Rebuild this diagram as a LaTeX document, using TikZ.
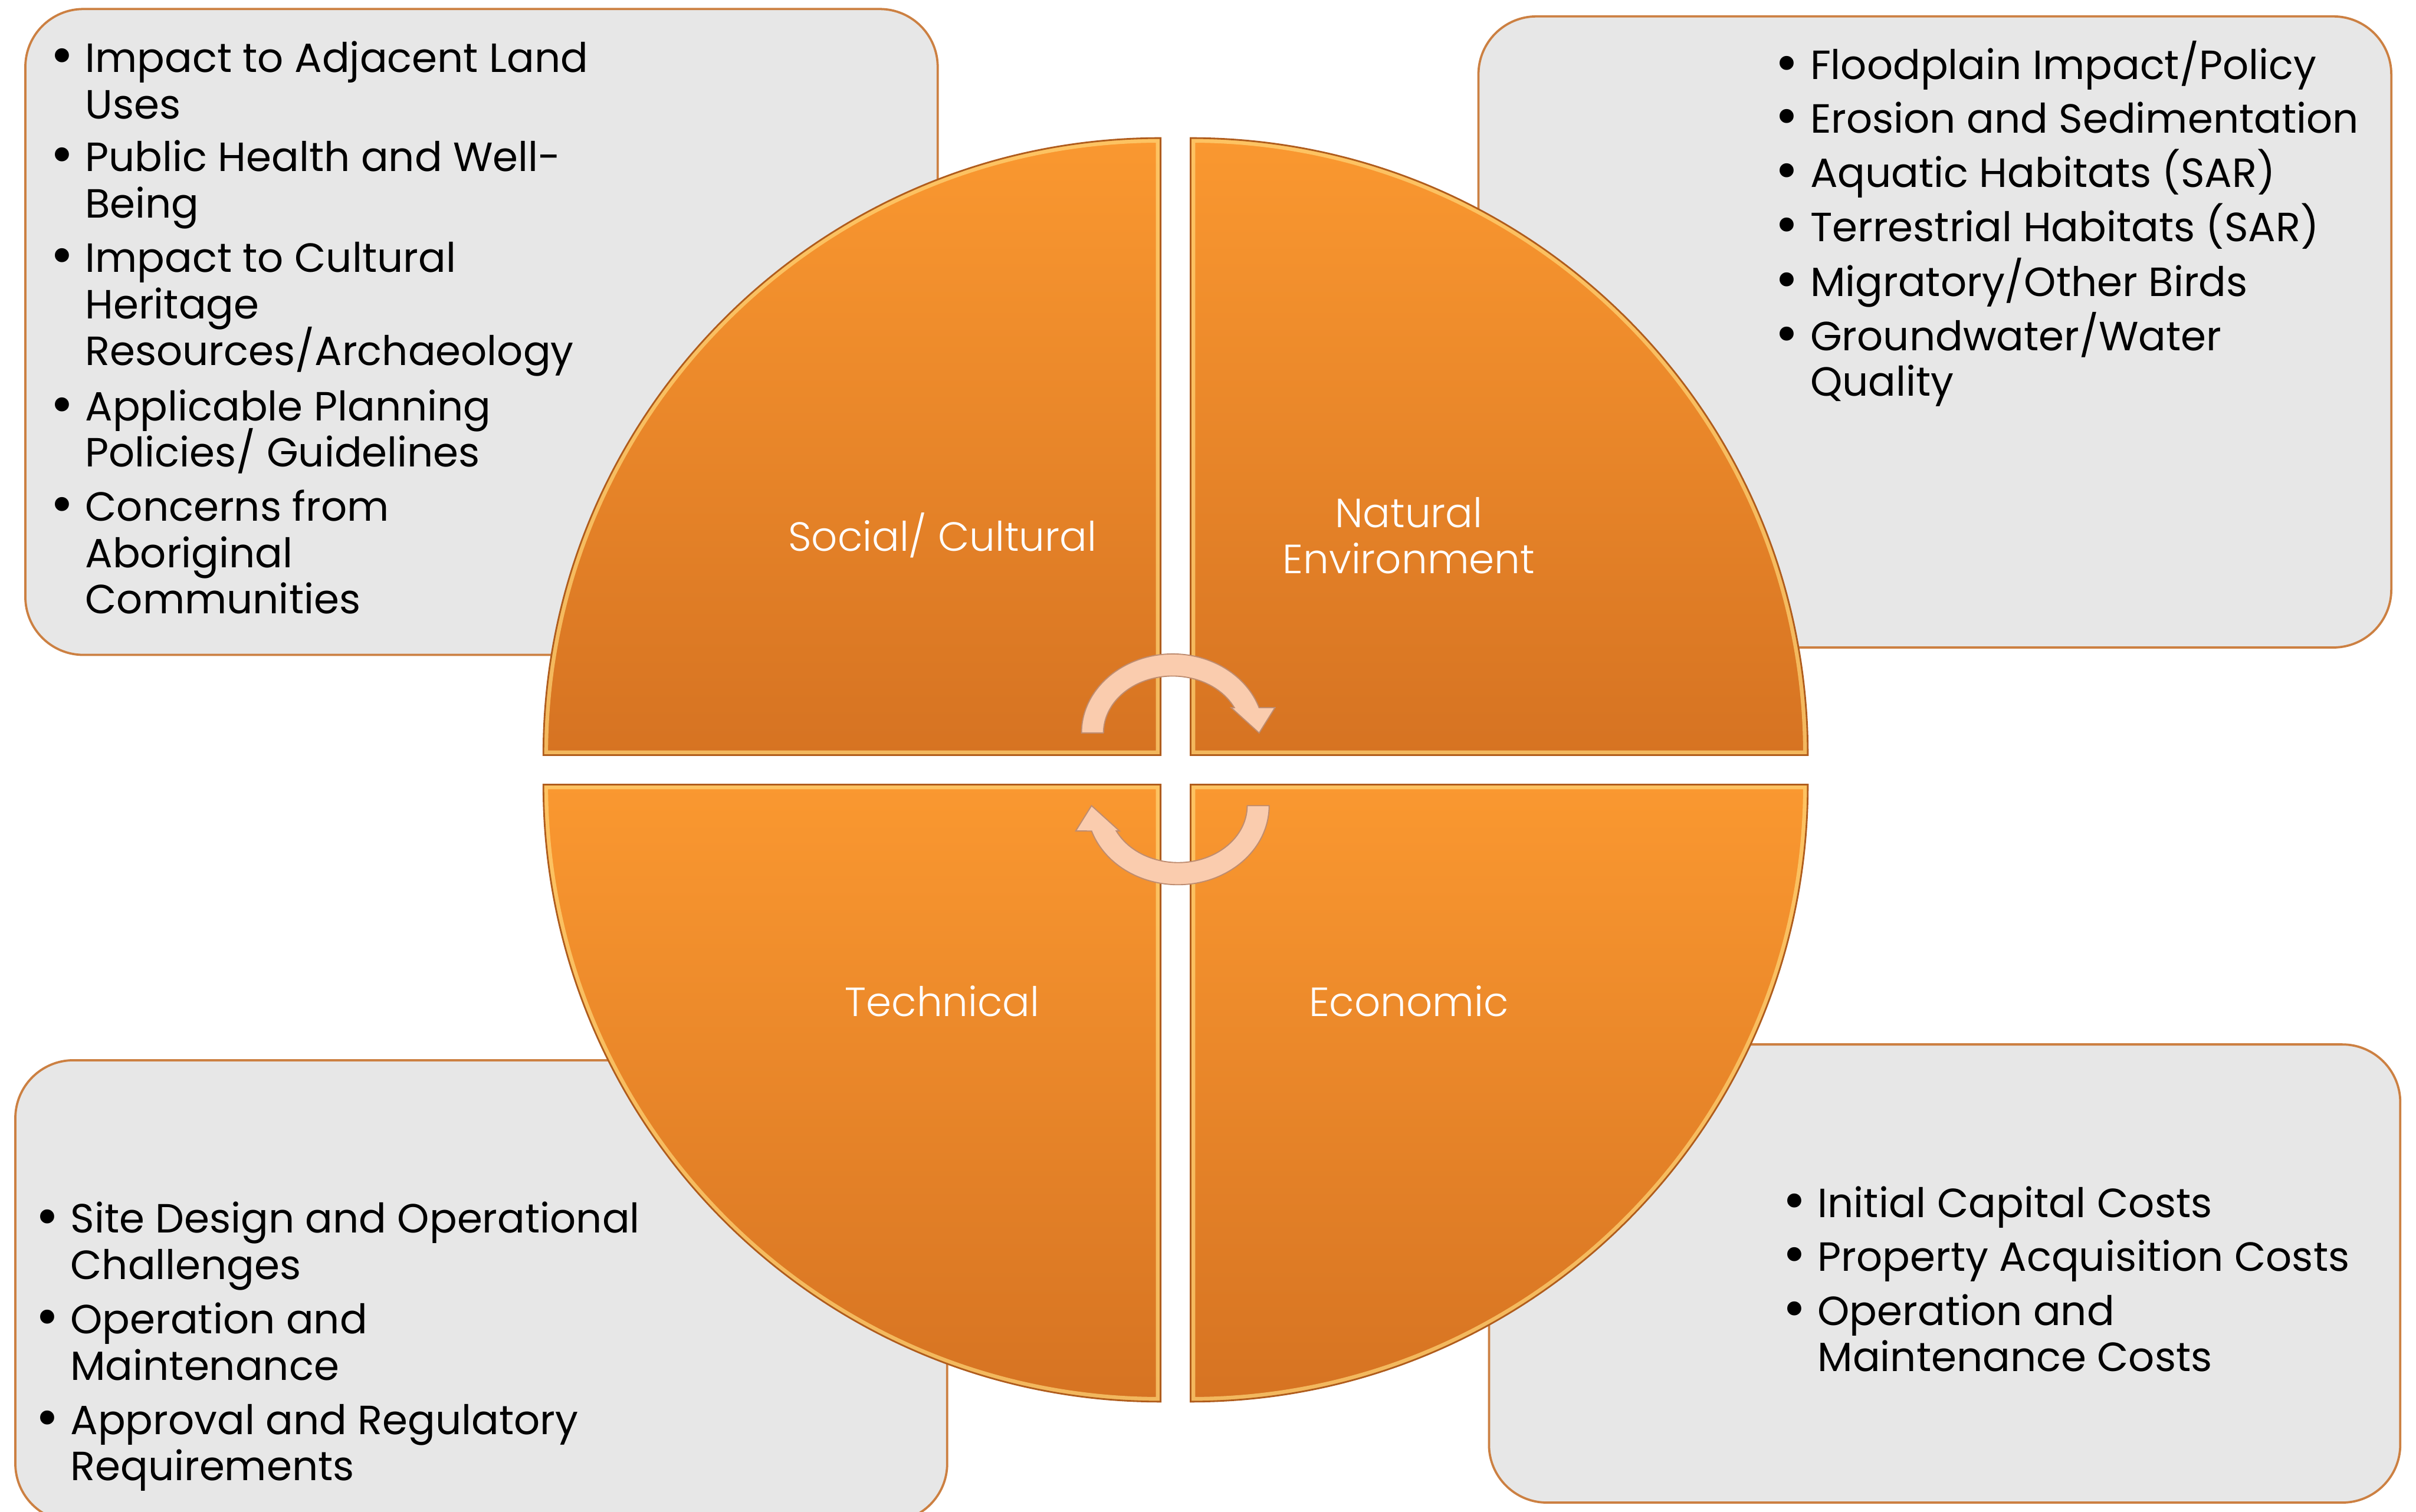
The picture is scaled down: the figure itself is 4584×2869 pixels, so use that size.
\documentclass[tikz,border=0pt]{standalone}
\usepackage{fontspec}
\setmainfont{Poppins}
\newfontfamily\titlefont{Poppins}[UprightFont={* Light}]

\definecolor{boxfill}{RGB}{231,231,231}
\definecolor{boxedge}{RGB}{204,128,66}
\definecolor{qtop}{RGB}{250,152,48}
\definecolor{qbot}{RGB}{214,115,34}
\definecolor{qedge}{RGB}{176,92,28}
\definecolor{bevelhi}{RGB}{255,214,120}
\definecolor{arrowfill}{RGB}{250,204,174}
\definecolor{arrowedge}{RGB}{190,140,112}

% one quarter of the disc: shaded body, light inner bevel, thin dark rim
\newcommand\quadpiece[1]{%
  \shade[top color=qtop, bottom color=qbot] #1;
  \begin{scope}\clip #1; \draw[line width=5pt, bevelhi, opacity=0.7] #1;\end{scope}
  \draw[line width=0.9pt, qedge] #1;}

\tikzset{
  infobox/.style={draw=boxedge, fill=boxfill, line width=1.2pt,
    rounded corners=1.1cm, anchor=north west, inner sep=0pt},
  listline/.style={anchor=base west, inner sep=0pt,
    font=\fontsize{22}{24}\selectfont, text=black},
  quadlabel/.style={anchor=base, inner sep=0pt,
    font=\titlefont\fontsize{22}{24}\selectfont, text=white},
  cycarrow/.pic={
    \filldraw[fill=arrowfill, draw=arrowedge, line width=0.6pt]
      (-136,-69) -- (-178,-69)
      arc[start angle=180, end angle=341.3, x radius=173, y radius=150]
      -- (189,-117) -- (159,-69) -- (106,-117) -- (112,-117)
      arc[start angle=333.6, end angle=180, x radius=131, y radius=108]
      -- cycle;
  }
}
\newcommand\bul{\llap{\makebox[0.88cm]{\raisebox{-0.06em}{\scalebox{1.4}{\textbullet}}}}}

\begin{document}
\begin{tikzpicture}[x=0.01cm, y=-0.01cm]
\useasboundingbox (0,0) rectangle (4584,2869);
\fill[white] (0,0) rectangle (4584,2869);

% text panels behind the disc
\node[infobox, minimum width=17.30cm, minimum height=12.25cm] (boxTL) at (46,15) {};
\node[infobox, minimum width=17.31cm, minimum height=11.97cm] (boxTR) at (2803,29) {};
\node[infobox, minimum width=17.67cm, minimum height=8.75cm] (boxBL) at (27,2010) {};
\node[infobox, minimum width=17.28cm, minimum height=8.69cm] (boxBR) at (2823,1980) {};

% social / cultural items
\node[listline] (tl1) at (161,137) {\bul Impact to Adjacent Land};
\node[listline] (tl2) at (161,225) {Uses};
\node[listline] (tl3) at (161,325) {\bul Public Health and Well-};
\node[listline] (tl4) at (161,414) {Being};
\node[listline] (tl5) at (161,516) {\bul Impact to Cultural};
\node[listline] (tl6) at (161,605) {Heritage};
\node[listline] (tl7) at (161,693) {Resources/Archaeology};
\node[listline] (tl8) at (161,799) {\bul Applicable Planning};
\node[listline] (tl9) at (161,886) {Policies/ Guidelines};
\node[listline] (tl10) at (161,989) {\bul Concerns from};
\node[listline] (tl11) at (161,1077) {Aboriginal};
\node[listline] (tl12) at (161,1165) {Communities};

% natural environment items
\node[listline] (tr1) at (3434,151) {\bul Floodplain Impact/Policy};
\node[listline] (tr2) at (3434,252) {\bul Erosion and Sedimentation};
\node[listline] (tr3) at (3434,355) {\bul Aquatic Habitats (SAR)};
\node[listline] (tr4) at (3434,458) {\bul Terrestrial Habitats (SAR)};
\node[listline] (tr5) at (3434,562) {\bul Migratory/Other Birds};
\node[listline] (tr6) at (3434,665) {\bul Groundwater/Water};
\node[listline] (tr7) at (3434,751) {Quality};

% technical items
\node[listline] (bl1) at (133,2340) {\bul Site Design and Operational};
\node[listline] (bl2) at (133,2428) {Challenges};
\node[listline] (bl3) at (133,2531) {\bul Operation and};
\node[listline] (bl4) at (133,2619) {Maintenance};
\node[listline] (bl5) at (133,2722) {\bul Approval and Regulatory};
\node[listline] (bl6) at (133,2810) {Requirements};

% economic items
\node[listline] (br1) at (3448,2310) {\bul Initial Capital Costs};
\node[listline] (br2) at (3448,2412) {\bul Property Acquisition Costs};
\node[listline] (br3) at (3448,2515) {\bul Operation and};
\node[listline] (br4) at (3448,2603) {Maintenance Costs};

% the four quarters of the disc
\quadpiece{(2202,1433) -- (1031,1433) arc[start angle=180, end angle=270, radius=1171] -- cycle}
\quadpiece{(2259,1433) -- (2259,262) arc[start angle=270, end angle=360, radius=1171] -- cycle}
\quadpiece{(2202,1489) -- (1031,1489) arc[start angle=180, end angle=90, radius=1171] -- cycle}
\quadpiece{(2259,1489) -- (3430,1489) arc[start angle=0, end angle=90, radius=1171] -- cycle}

% quarter titles
\node[quadlabel] (social) at (1788,1046) {Social/ Cultural};
\node[quadlabel] (natural1) at (2673,1001) {Natural};
\node[quadlabel] (natural2) at (2673,1088) {Environment};
\node[quadlabel] (technical) at (1788,1929) {Technical};
\node[quadlabel] (economic) at (2673,1929) {Economic};

% circular arrows in the centre
\pic at (2230,1460) {cycarrow};
\pic[rotate=180] at (2230,1460) {cycarrow};
\end{tikzpicture}
\end{document}
